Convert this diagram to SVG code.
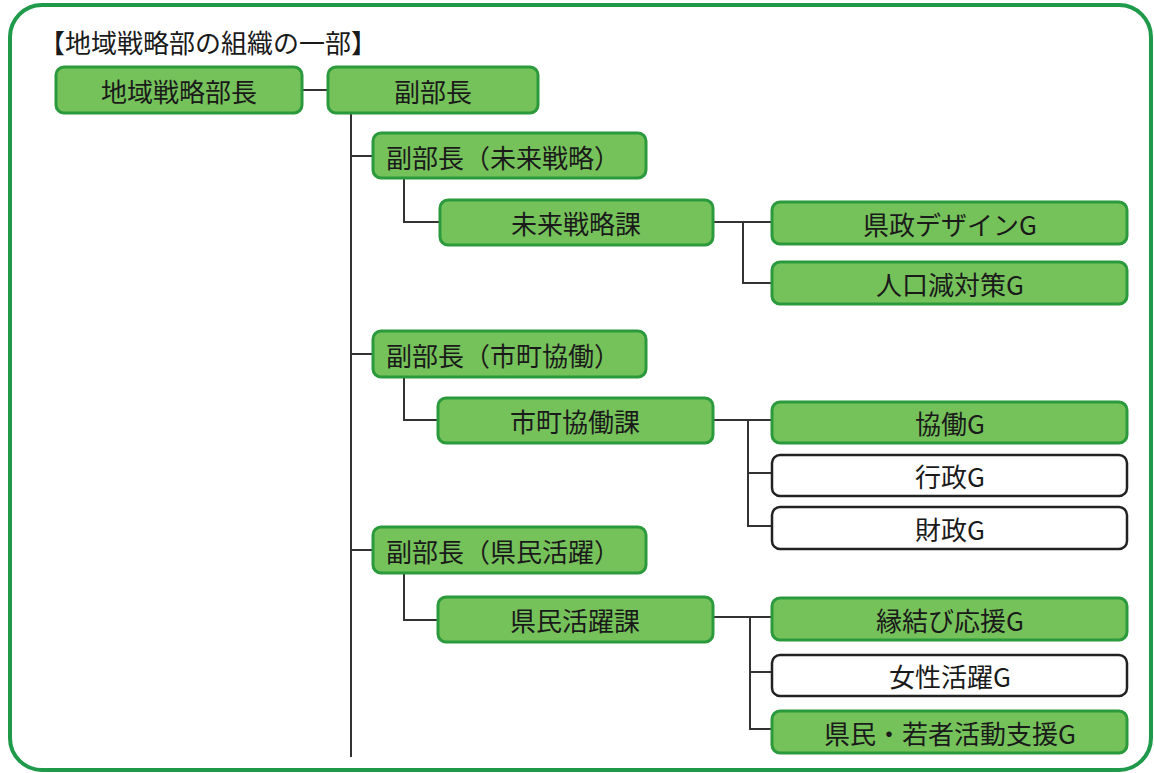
<svg xmlns="http://www.w3.org/2000/svg" width="1154" height="773" viewBox="0 0 1154 773">
<style>
.g{fill:#76c25a;stroke:#2b9a3c;stroke-width:3}
.w{fill:#fff;stroke:#222;stroke-width:2.5}
.t{font-family:"Noto Sans CJK JP","Noto Sans CJK SC",sans-serif;font-size:26px;fill:#1a1a1a;text-anchor:middle;dominant-baseline:central}
.c{fill:none;stroke:#333;stroke-width:2}
</style>
<rect x="0" y="0" width="1154" height="773" fill="#fff"/>
<rect x="10" y="5" width="1141" height="765" rx="32" fill="none" stroke="#1e9a4a" stroke-width="4"/>
<text x="39" y="41" font-family="'Noto Sans CJK JP','Noto Sans CJK SC',sans-serif" font-size="26" fill="#1a1a1a" dominant-baseline="central">【地域戦略部の組織の一部】</text>
<g id="connectors">
<path class="c" d="M302 90H328"/>
<path class="c" d="M351 114V757"/>
<path class="c" d="M351 156H373M351 354H373M351 550H373"/>
<path class="c" d="M404 178V222H440M404 378V420H438M404 573V620H438"/>
<path class="c" d="M713 222H772M743 222V283H772"/>
<path class="c" d="M713 420H772M748 420V526H772M748 473H772"/>
<path class="c" d="M713 617H772M750 617V729H772M750 672H772"/>
</g>
<g id="n1"><rect class="g" x="56" y="67" width="246" height="46" rx="8"/><text class="t" x="179" y="90">地域戦略部長</text></g>
<g id="n2"><rect class="g" x="328" y="67" width="210" height="46" rx="8"/><text class="t" x="433" y="90">副部長</text></g>
<g id="n3"><rect class="g" x="373" y="133" width="273" height="45" rx="8"/><text class="t" x="503" y="156">副部長（未来戦略）</text></g>
<g id="n4"><rect class="g" x="440" y="200" width="273" height="45" rx="8"/><text class="t" x="576" y="222">未来戦略課</text></g>
<g id="n5"><rect class="g" x="772" y="202" width="355" height="42" rx="8"/><text class="t" x="950" y="223">県政デザインG</text></g>
<g id="n6"><rect class="g" x="772" y="262" width="355" height="42" rx="8"/><text class="t" x="950" y="283">人口減対策G</text></g>
<g id="n7"><rect class="g" x="373" y="331" width="273" height="46" rx="8"/><text class="t" x="503" y="354">副部長（市町協働）</text></g>
<g id="n8"><rect class="g" x="438" y="398" width="275" height="45" rx="8"/><text class="t" x="575" y="420">市町協働課</text></g>
<g id="n9"><rect class="g" x="772" y="402" width="355" height="41" rx="8"/><text class="t" x="950" y="422">協働G</text></g>
<g id="n10"><rect class="w" x="772" y="455" width="355" height="41" rx="8"/><text class="t" x="950" y="475">行政G</text></g>
<g id="n11"><rect class="w" x="772" y="507" width="355" height="42" rx="8"/><text class="t" x="950" y="528">財政G</text></g>
<g id="n12"><rect class="g" x="373" y="527" width="273" height="46" rx="8"/><text class="t" x="503" y="550">副部長（県民活躍）</text></g>
<g id="n13"><rect class="g" x="438" y="597" width="275" height="45" rx="8"/><text class="t" x="575" y="619">県民活躍課</text></g>
<g id="n14"><rect class="g" x="772" y="598" width="355" height="42" rx="8"/><text class="t" x="950" y="619">縁結び応援G</text></g>
<g id="n15"><rect class="w" x="772" y="655" width="355" height="41" rx="8"/><text class="t" x="950" y="675">女性活躍G</text></g>
<g id="n16"><rect class="g" x="772" y="711" width="355" height="42" rx="8"/><text class="t" x="950" y="732">県民・若者活動支援G</text></g>
</svg>
